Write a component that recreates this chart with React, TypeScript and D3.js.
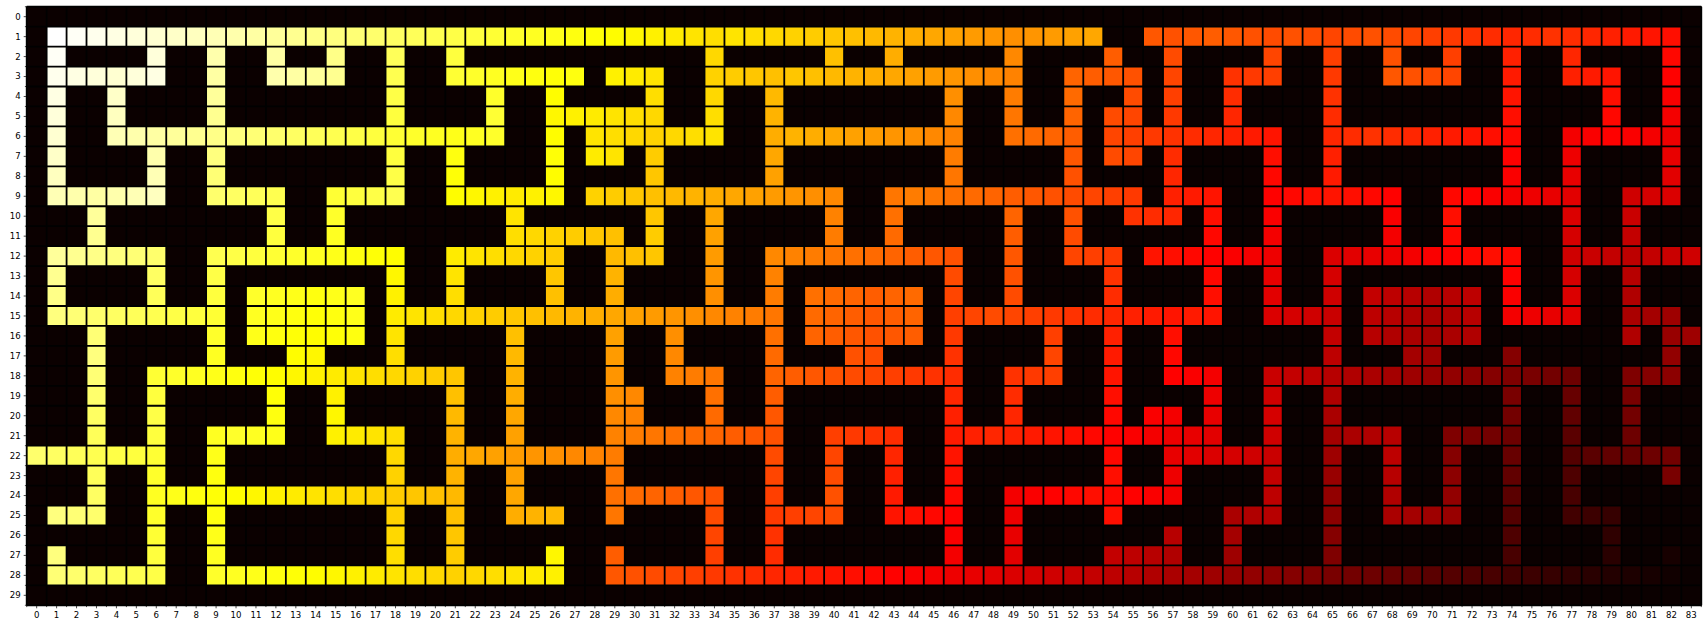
import * as d3 from "d3";

// steps to the exit for every open cell (0 = wall), one array per maze row
const cellValues: number[][] = [
  [0,0,0,0,0,0,0,0,0,0, 0,0,0,0,0,0,0,0,0,0, 0,0,0,0,0,0,0,0,0,0, 0,0,0,0,0,0,0,0,0,0, 0,0,0,0,0,0,0,0,0,0, 0,0,0,0,0,0,0,0,0,0, 0,0,0,0,0,0,0,0,0,0, 0,0,0,0,0,0,0,0,0,0, 0,0,0,0],
  [0,109,108,107,106,105,104,103,102,101, 100,99,98,97,96,95,94,93,92,91, 90,89,88,87,86,85,84,83,82,81, 80,79,78,77,76,77,76,75,74,73, 72,71,70,69,68,67,66,65,64,63, 64,65,66,67,0,0,54,53,54,55, 54,53,52,53,52,51,52,53,52,51, 50,49,48,47,46,47,48,47,46,45, 44,43,42,0],
  [0,108,0,0,0,0,105,0,0,100, 0,0,99,0,0,96,0,0,91,0, 0,88,0,0,0,0,0,0,0,0, 0,0,0,0,75,0,0,0,0,0, 71,0,0,68,0,0,0,0,0,62, 0,0,0,0,55,0,0,52,0,0, 0,0,51,0,0,50,0,0,53,0, 0,50,0,0,45,0,0,46,0,0, 0,0,41,0],
  [0,107,106,105,104,105,106,0,0,99, 0,0,100,99,98,97,0,0,90,0, 0,87,86,85,84,83,82,83,0,79, 78,77,0,0,74,73,72,71,72,71, 70,69,68,67,66,65,64,63,62,61, 0,0,56,55,54,53,0,51,0,0, 48,49,50,0,0,49,0,0,54,53, 52,51,0,0,44,0,0,45,44,43, 0,0,40,0],
  [0,106,0,0,103,0,0,0,0,98, 0,0,0,0,0,0,0,0,89,0, 0,0,0,86,0,0,81,0,0,0, 0,76,0,0,75,0,0,70,0,0, 0,0,0,0,0,0,63,0,0,60, 0,0,57,0,0,52,0,50,0,0, 47,0,0,0,0,48,0,0,0,0, 0,0,0,0,43,0,0,0,0,42, 0,0,39,0],
  [0,105,0,0,102,0,0,0,0,97, 0,0,0,0,0,0,0,0,88,0, 0,0,0,87,0,0,80,79,78,77, 76,75,0,0,76,0,0,69,0,0, 0,0,0,0,0,0,62,0,0,59, 0,0,56,0,52,51,0,49,0,0, 46,0,0,0,0,47,0,0,0,0, 0,0,0,0,42,0,0,0,0,41, 0,0,38,0],
  [0,104,0,0,101,100,99,98,97,96, 95,94,93,92,91,90,89,88,87,86, 85,84,85,86,0,0,81,0,77,76, 75,74,75,76,77,0,0,68,69,68, 67,66,65,64,63,62,61,0,0,58, 57,56,55,0,51,50,49,48,47,46, 45,44,43,0,0,46,47,48,47,46, 45,44,43,42,41,0,0,38,39,40, 39,38,37,0],
  [0,103,0,0,0,0,100,0,0,95, 0,0,0,0,0,0,0,0,88,0, 0,83,0,0,0,0,82,0,78,77, 0,73,0,0,0,0,0,67,0,0, 0,0,0,0,0,0,60,0,0,0, 0,0,54,0,52,51,0,47,0,0, 0,0,42,0,0,45,0,0,0,0, 0,0,0,0,40,0,0,37,0,0, 0,0,36,0],
  [0,102,0,0,0,0,101,0,0,94, 0,0,0,0,0,0,0,0,89,0, 0,82,0,0,0,0,81,0,0,0, 0,72,0,0,0,0,0,66,0,0, 0,0,0,0,0,0,59,0,0,0, 0,0,53,0,0,0,0,46,0,0, 0,0,41,0,0,44,0,0,0,0, 0,0,0,0,39,0,0,36,0,0, 0,0,35,0],
  [0,101,100,99,100,101,102,0,0,93, 92,91,90,0,0,87,88,89,90,0, 0,81,80,79,78,79,80,0,74,73, 72,71,70,69,68,67,66,65,64,63, 62,0,0,59,60,59,58,57,56,55, 54,53,52,51,50,49,0,45,44,43, 0,0,40,41,42,43,42,41,40,0, 0,41,40,39,38,37,36,35,0,0, 32,33,34,0],
  [0,0,0,98,0,0,0,0,0,0, 0,0,89,0,0,86,0,0,0,0, 0,0,0,0,77,0,0,0,0,0, 0,72,0,0,67,0,0,0,0,0, 61,0,0,58,0,0,0,0,0,56, 0,0,53,0,0,48,47,46,0,42, 0,0,39,0,0,0,0,0,39,0, 0,42,0,0,0,0,0,34,0,0, 31,0,0,0],
  [0,0,0,97,0,0,0,0,0,0, 0,0,88,0,0,85,0,0,0,0, 0,0,0,0,76,75,74,73,72,71, 0,73,0,0,66,0,0,0,0,0, 60,0,0,57,0,0,0,0,0,55, 0,0,52,0,0,0,0,0,0,41, 0,0,38,0,0,0,0,0,38,0, 0,41,0,0,0,0,0,33,0,0, 30,0,0,0],
  [0,98,97,96,95,94,93,0,0,90, 89,88,87,86,85,84,83,82,81,0, 0,78,77,76,75,74,73,0,0,70, 71,72,0,0,65,0,0,62,61,60, 59,58,57,56,55,54,53,0,0,54, 0,0,51,50,49,0,43,42,41,40, 39,38,37,0,0,34,35,36,37,38, 39,40,41,42,41,0,0,32,31,30, 29,30,31,32],
  [0,97,0,0,0,0,92,0,0,89, 0,0,0,0,0,0,0,0,80,0, 0,77,0,0,0,0,72,0,0,69, 0,0,0,0,64,0,0,61,0,0, 0,0,0,0,0,0,52,0,0,53, 0,0,0,0,48,0,0,0,0,41, 0,0,36,0,0,33,0,0,0,0, 0,0,0,0,40,0,0,33,0,0, 28,0,0,0],
  [0,96,0,0,0,0,91,0,0,88, 0,86,85,84,83,84,85,0,79,0, 0,76,0,0,0,0,71,0,0,68, 0,0,0,0,63,0,0,60,0,58, 57,56,55,56,57,0,51,0,0,52, 0,0,0,0,47,0,0,0,0,42, 0,0,35,0,0,32,0,30,29,28, 27,28,29,0,39,0,0,34,0,0, 27,0,0,0],
  [0,95,94,93,92,91,90,89,88,87, 0,85,84,83,82,83,84,0,78,77, 76,75,74,73,72,71,70,69,68,67, 66,65,64,63,62,61,60,59,0,57, 56,55,54,55,56,0,50,51,52,51, 50,49,48,47,46,45,44,43,44,43, 0,0,34,33,32,31,0,29,28,27, 26,27,28,0,38,37,36,35,0,0, 26,25,24,0],
  [0,0,0,94,0,0,0,0,0,86, 0,84,83,82,81,82,83,0,77,0, 0,0,0,0,71,0,0,0,0,66, 0,0,63,0,0,0,0,58,0,56, 55,54,53,54,55,0,49,0,0,0, 0,50,0,0,45,0,0,42,0,0, 0,0,0,0,0,30,0,28,27,26, 25,26,27,0,0,0,0,0,0,0, 27,0,23,24],
  [0,0,0,95,0,0,0,0,0,85, 0,0,0,81,80,0,0,0,76,0, 0,0,0,0,70,0,0,0,0,65, 0,0,62,0,0,0,0,57,0,0, 0,53,52,0,0,0,48,0,0,0, 0,51,0,0,44,0,0,41,0,0, 0,0,0,0,0,29,0,0,0,25, 24,0,0,0,20,0,0,0,0,0, 0,0,22,0],
  [0,0,0,94,0,0,87,86,85,84, 83,82,81,80,79,78,77,76,75,74, 73,72,0,0,69,0,0,0,0,64, 0,0,61,60,59,0,0,56,55,54, 53,52,51,50,49,48,47,0,0,48, 49,50,0,0,43,0,0,40,39,38, 0,0,31,30,29,28,27,26,25,24, 23,22,21,20,19,18,17,16,0,0, 19,20,21,0],
  [0,0,0,93,0,0,88,0,0,0, 0,0,82,0,0,79,0,0,0,0, 0,71,0,0,68,0,0,0,0,63, 62,0,0,0,58,0,0,55,0,0, 0,0,0,0,0,0,46,0,0,47, 0,0,0,0,42,0,0,0,0,37, 0,0,32,0,0,27,0,0,0,0, 0,0,0,0,18,0,0,15,0,0, 18,0,0,0],
  [0,0,0,92,0,0,89,0,0,0, 0,0,83,0,0,80,0,0,0,0, 0,70,0,0,67,0,0,0,0,62, 61,0,0,0,57,0,0,54,0,0, 0,0,0,0,0,0,45,0,0,46, 0,0,0,0,41,0,39,38,0,36, 0,0,33,0,0,26,0,0,0,0, 0,0,0,0,17,0,0,14,0,0, 17,0,0,0],
  [0,0,0,91,0,0,88,0,0,85, 86,85,84,0,0,79,78,77,76,0, 0,69,0,0,66,0,0,0,0,61, 60,59,58,57,56,55,54,53,0,0, 50,49,48,47,0,0,44,45,46,45, 44,43,42,41,40,39,38,37,36,35, 0,0,32,0,0,25,26,27,28,0, 0,19,18,17,16,0,0,13,0,0, 16,0,0,0],
  [93,92,91,90,89,88,87,0,0,84, 0,0,0,0,0,0,0,0,75,0, 0,68,67,66,65,64,63,62,61,60, 0,0,0,0,0,0,0,52,0,0, 51,0,0,46,0,0,43,0,0,0, 0,0,0,0,41,0,0,36,35,34, 33,32,31,0,0,24,0,0,29,0, 0,20,0,0,15,0,0,12,13,14, 15,16,17,0],
  [0,0,0,91,0,0,86,0,0,83, 0,0,0,0,0,0,0,0,74,0, 0,69,0,0,66,0,0,0,0,59, 0,0,0,0,0,0,0,51,0,0, 52,0,0,45,0,0,42,0,0,0, 0,0,0,0,42,0,0,37,0,0, 0,0,30,0,0,23,0,0,28,0, 0,21,0,0,14,0,0,11,0,0, 0,0,18,0],
  [0,0,0,92,0,0,85,84,83,82, 81,80,79,78,77,76,75,74,73,72, 71,70,0,0,67,0,0,0,0,58, 57,56,55,54,53,0,0,50,0,0, 53,0,0,44,0,0,41,0,0,38, 39,40,41,42,41,40,39,38,0,0, 0,0,29,0,0,22,0,0,27,0, 0,22,0,0,13,0,0,10,0,0, 0,0,0,0],
  [0,95,94,93,0,0,86,0,0,83, 0,0,0,0,0,0,0,0,74,0, 0,71,0,0,68,69,70,0,0,59, 0,0,0,0,52,0,0,49,50,51, 52,0,0,43,42,41,40,0,0,37, 0,0,0,0,42,0,0,0,0,0, 26,27,28,0,0,21,0,0,26,25, 24,23,0,0,12,0,0,9,8,7, 0,0,0,0],
  [0,0,0,0,0,0,87,0,0,84, 0,0,0,0,0,0,0,0,75,0, 0,72,0,0,0,0,0,0,0,0, 0,0,0,0,51,0,0,48,0,0, 0,0,0,0,0,0,39,0,0,36, 0,0,0,0,0,0,0,28,0,0, 25,0,0,0,0,20,0,0,0,0, 0,0,0,0,11,0,0,0,0,6, 0,0,0,0],
  [0,95,0,0,0,0,88,0,0,85, 0,0,0,0,0,0,0,0,76,0, 0,73,0,0,0,0,80,0,0,55, 0,0,0,0,50,0,0,47,0,0, 0,0,0,0,0,0,38,0,0,35, 0,0,0,0,30,29,28,27,0,0, 24,0,0,0,0,19,0,0,0,0, 0,0,0,0,10,0,0,0,0,5, 0,0,2,0],
  [0,94,93,92,91,90,89,0,0,86, 85,84,83,82,81,80,79,78,77,76, 75,74,75,76,77,78,79,0,0,54, 53,52,51,50,49,48,47,46,45,44, 43,42,41,40,39,38,37,36,35,34, 33,32,31,30,29,28,27,26,25,24, 23,22,21,20,19,18,17,16,15,14, 13,12,11,10,9,8,7,6,5,4, 3,2,1,0],
  [0,0,0,0,0,0,0,0,0,0, 0,0,0,0,0,0,0,0,0,0, 0,0,0,0,0,0,0,0,0,0, 0,0,0,0,0,0,0,0,0,0, 0,0,0,0,0,0,0,0,0,0, 0,0,0,0,0,0,0,0,0,0, 0,0,0,0,0,0,0,0,0,0, 0,0,0,0,0,0,0,0,0,0, 0,0,0,0],
];

const colLabels = d3.range(84).map(String);
const rowLabels = d3.range(30).map(String);

// matplotlib "hot"
function hot(t: number) {
  const a = 0.365079;
  const b = 0.746032;
  const r = t < a ? 0.0416 + ((1 - 0.0416) * t) / a : 1;
  const g = t < a ? 0 : t < b ? (t - a) / (b - a) : 1;
  const bl = t < b ? 0 : (t - b) / (1 - b);
  return d3.rgb(r * 255, g * 255, bl * 255).formatHex();
}

export default function App() {
  const W = 1708;
  const H = 629;
  const mg = { top: 6.7, left: 26.7, right: 6.7, bottom: 23.7 };
  const innerW = W - mg.left - mg.right;
  const innerH = H - mg.top - mg.bottom;

  const x = d3.scaleBand<string>().domain(colLabels).range([mg.left, mg.left + innerW]);
  const y = d3.scaleBand<string>().domain(rowLabels).range([mg.top, mg.top + innerH]);
  const vmax = d3.max(cellValues.flat()) ?? 1;
  const color = (v: number) => hot(v / vmax);
  const bottom = mg.top + innerH;
  const right = mg.left + innerW;

  const xEdges = d3.range(colLabels.length + 1).map((i) => mg.left + i * x.step());
  const yEdges = d3.range(rowLabels.length + 1).map((i) => mg.top + i * y.step());

  return (
    <svg
      width={W}
      height={H}
      style={{ position: "absolute", left: 0, top: 0, background: "#fff" }}
      fontFamily="DejaVu Sans, sans-serif"
    >
      <g>
        {cellValues.map((row, r) =>
          row.map((v, c) => (
            <rect
              key={`${r}-${c}`}
              x={x(colLabels[c])}
              y={y(rowLabels[r])}
              width={x.bandwidth() + 0.5}
              height={y.bandwidth() + 0.5}
              fill={color(v)}
            />
          ))
        )}
      </g>
      {/* black grid on the minor ticks */}
      <g stroke="#000" strokeWidth={1.8}>
        {xEdges.map((ex, i) => (
          <line key={`gx${i}`} x1={ex} x2={ex} y1={mg.top} y2={bottom} />
        ))}
        {yEdges.map((ey, i) => (
          <line key={`gy${i}`} x1={mg.left} x2={right} y1={ey} y2={ey} />
        ))}
      </g>
      <rect x={mg.left} y={mg.top} width={innerW} height={innerH} fill="none" stroke="#000" strokeWidth={0.8} />
      <g stroke="#000" strokeWidth={0.7}>
        {xEdges.map((ex, i) => (
          <line key={`mx${i}`} x1={ex} x2={ex} y1={bottom} y2={bottom + 1.8} />
        ))}
        {yEdges.map((ey, i) => (
          <line key={`my${i}`} x1={mg.left} x2={mg.left - 1.8} y1={ey} y2={ey} />
        ))}
      </g>
      {colLabels.map((l) => (
        <g key={`xl${l}`} transform={`translate(${x(l)! + x.bandwidth() / 2},${bottom})`}>
          <line y2={3} stroke="#000" strokeWidth={0.7} />
          <text y={12.6} textAnchor="middle" fontSize={8.6} fill="#000">
            {l}
          </text>
        </g>
      ))}
      {rowLabels.map((l) => (
        <g key={`yl${l}`} transform={`translate(${mg.left},${y(l)! + y.bandwidth() / 2})`}>
          <line x2={-3} stroke="#000" strokeWidth={0.7} />
          <text x={-6} dy="0.34em" textAnchor="end" fontSize={8.6} fill="#000">
            {l}
          </text>
        </g>
      ))}
    </svg>
  );
}
